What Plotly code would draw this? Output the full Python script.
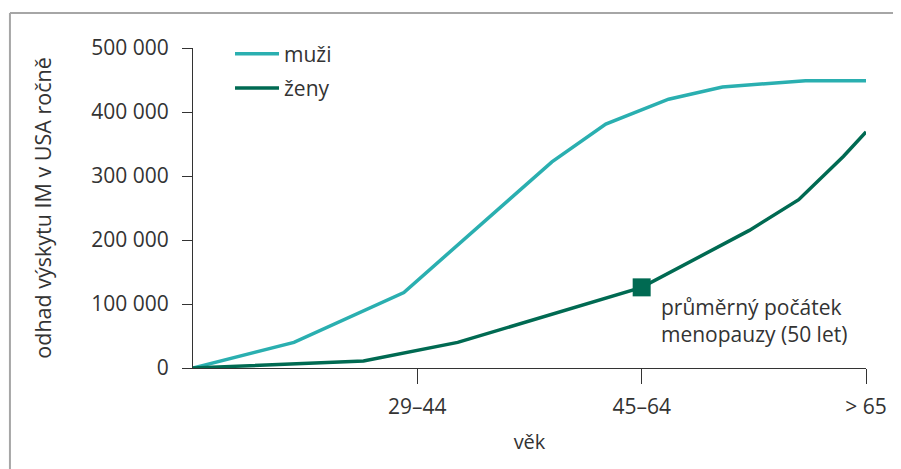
import plotly.graph_objects as go

# Estimated incidence of MI in the USA per year by age
# x positions: 0 = origin, 1 = 29–44, 2 = 45–64, 3 = > 65
muzi_x = [0, 0.45, 0.94, 1.6, 1.84, 2.12, 2.36, 2.73, 3.0]
muzi_y = [0, 40000, 118000, 322000, 381000, 420000, 439000, 449000, 449000]

zeny_x = [0, 0.76, 1.18, 2.0, 2.48, 2.7, 2.9, 3.0]
zeny_y = [0, 11000, 40000, 126000, 215000, 263000, 331000, 369000]

menopauza_x = [2.0]
menopauza_y = [126000]

tick_vals = [1, 2, 3]
tick_text = ["29–44", "45–64", "> 65"]

TEAL = "#2aafb0"
GREEN = "#006a52"
TEXT = "#333333"
FRAME = "#a6a6a6"
FONT = "Open Sans"

fig = go.Figure()

fig.add_trace(go.Scatter(
    x=muzi_x, y=muzi_y, mode="lines", name="muži",
    line=dict(color=TEAL, width=3.5), legendgroup="m",
))
fig.add_trace(go.Scatter(
    x=zeny_x, y=zeny_y, mode="lines", name="ženy",
    line=dict(color=GREEN, width=3.5), legendgroup="z",
))
fig.add_trace(go.Scatter(
    x=menopauza_x, y=menopauza_y, mode="markers", showlegend=False,
    marker=dict(symbol="square", size=18, color=GREEN),
))

fig.add_annotation(
    x=menopauza_x[0], y=menopauza_y[0], xref="x", yref="y",
    text="průměrný počátek<br>menopauzy (50 let)",
    showarrow=False, xanchor="left", yanchor="top", align="left",
    xshift=17, yshift=-4,
    font=dict(family=FONT, size=21, color=TEXT),
)

# outer frame (only top and left edges are visible in the crop)
fig.add_shape(type="line", xref="paper", yref="paper",
              x0=-0.272, x1=1.3, y0=1.109, y1=1.109,
              line=dict(color=FRAME, width=2), layer="below")
fig.add_shape(type="line", xref="paper", yref="paper",
              x0=-0.272, x1=-0.272, y0=-0.6, y1=1.109,
              line=dict(color=FRAME, width=2), layer="below")

# page body adds an 8px margin, so the figure is 8px smaller than the window
fig.update_layout(
    width=893, height=461,
    margin=dict(l=185, r=35, t=40, b=101),
    paper_bgcolor="white", plot_bgcolor="white",
    font=dict(family=FONT, size=21, color=TEXT),
    separators=". ",
    showlegend=True,
    legend=dict(x=0.055, y=1.045, xanchor="left", yanchor="top",
                traceorder="grouped", tracegroupgap=4, itemwidth=44,
                font=dict(size=21), bgcolor="rgba(0,0,0,0)"),
    xaxis=dict(
        range=[0, 3], tickvals=tick_vals, ticktext=tick_text,
        showgrid=False, zeroline=False, showline=True, linecolor=TEXT,
        linewidth=1, ticks="outside", ticklen=15, tickcolor=TEXT,
        ticklabelstandoff=5, automargin=False,
        title=dict(text="věk", font=dict(size=20), standoff=15),
    ),
    yaxis=dict(
        range=[0, 500000], tickvals=[0, 100000, 200000, 300000, 400000, 500000],
        tickformat=",d",
        showgrid=False, zeroline=False, showline=True, linecolor=TEXT,
        linewidth=1, ticks="outside", ticklen=10, tickcolor=TEXT,
        ticklabelstandoff=9, automargin=False,
        title=dict(text="odhad výskytu IM v USA ročně", font=dict(size=21.5), standoff=33),
    ),
)

fig.write_html("out.html")
